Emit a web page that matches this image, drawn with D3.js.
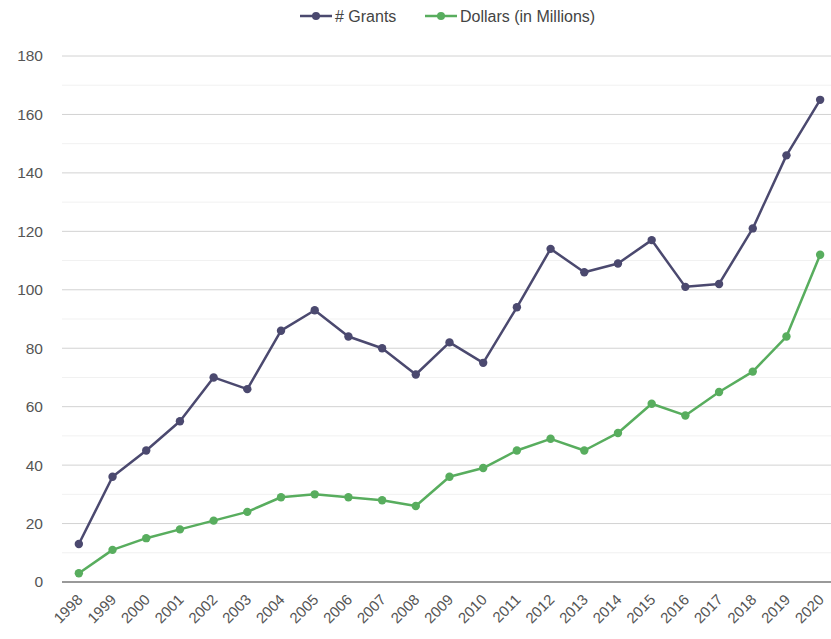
<!DOCTYPE html>
<html>
<head>
<meta charset="utf-8">
<script src="https://cdn.jsdelivr.net/npm/d3@7"></script>
<style>
  body { margin: 0; background: #fff; overflow: hidden; }
  svg { display: block; font-family: "Liberation Sans", Arial, sans-serif; }
</style>
</head>
<body>
<svg id="chart"></svg>
<script>
const years = ["1998","1999","2000","2001","2002","2003","2004","2005","2006","2007","2008",
  "2009","2010","2011","2012","2013","2014","2015","2016","2017","2018","2019","2020"];
const grants = [13, 36, 45, 55, 70, 66, 86, 93, 84, 80, 71, 82, 75, 94, 114, 106, 109, 117, 101, 102, 121, 146, 165];
const dollars = [3, 11, 15, 18, 21, 24, 29, 30, 29, 28, 26, 36, 39, 45, 49, 45, 51, 61, 57, 65, 72, 84, 112];
const yTicks = [0, 20, 40, 60, 80, 100, 120, 140, 160, 180];

const width = 831;
const height = 639;
const plotLeft = 62, plotRight = 837, plotTop = 56, plotBottom = 582;

const svg = d3.select("#chart")
  .attr("width", width)
  .attr("height", height);

const x = d3.scaleBand().domain(years).range([plotLeft, plotRight]);
const y = d3.scaleLinear().domain([0, 180]).range([plotBottom, plotTop]);

// minor gridlines
svg.append("g")
  .selectAll("line")
  .data(d3.range(10, 180, 20))
  .enter().append("line")
  .attr("x1", plotLeft).attr("x2", plotRight)
  .attr("y1", d => y(d)).attr("y2", d => y(d))
  .attr("stroke", "#f1f1f1");

// major gridlines
svg.append("g")
  .selectAll("line")
  .data(yTicks.filter(d => d > 0))
  .enter().append("line")
  .attr("x1", plotLeft).attr("x2", plotRight)
  .attr("y1", d => y(d)).attr("y2", d => y(d))
  .attr("stroke", "#d2d2d2");

// y axis labels
svg.append("g")
  .selectAll("text")
  .data(yTicks)
  .enter().append("text")
  .attr("x", 43)
  .attr("y", d => y(d))
  .attr("dy", "0.35em")
  .attr("text-anchor", "end")
  .attr("font-size", 15.5)
  .attr("fill", "#555")
  .text(d => d);

// baseline
svg.append("line")
  .attr("x1", plotLeft).attr("x2", plotRight)
  .attr("y1", y(0)).attr("y2", y(0))
  .attr("stroke", "#777")
  .attr("stroke-width", 1.5);

// x labels, rotated
svg.append("g")
  .selectAll("text")
  .data(years)
  .enter().append("text")
  .attr("transform", d => `translate(${x(d) + x.bandwidth() / 2 + 1},${plotBottom + 15}) rotate(-45)`)
  .attr("text-anchor", "end")
  .attr("dy", "0.35em")
  .attr("font-size", 15)
  .attr("fill", "#555")
  .text(d => d);

const cx = d => x(d) + x.bandwidth() / 2;

const series = [
  { name: "# Grants", values: grants, color: "#4b496f" },
  { name: "Dollars (in Millions)", values: dollars, color: "#58ad5e" }
];

series.forEach(s => {
  const pts = years.map((yr, i) => [cx(yr), y(s.values[i])]);
  svg.append("path")
    .datum(pts)
    .attr("fill", "none")
    .attr("stroke", s.color)
    .attr("stroke-width", 2.5)
    .attr("stroke-linejoin", "round")
    .attr("d", d3.line());
  svg.append("g")
    .selectAll("circle")
    .data(pts)
    .enter().append("circle")
    .attr("cx", d => d[0])
    .attr("cy", d => d[1])
    .attr("r", 4.2)
    .attr("fill", s.color);
});

// legend
const legendX = [300, 425];
const legend = svg.append("g");
series.forEach((s, i) => {
  const g = legend.append("g").attr("transform", `translate(${legendX[i]},16)`);
  g.append("line").attr("x1", 0).attr("x2", 32).attr("y1", 0).attr("y2", 0)
    .attr("stroke", s.color).attr("stroke-width", 2.5);
  g.append("circle").attr("cx", 16).attr("cy", 0).attr("r", 4).attr("fill", s.color);
  g.append("text").attr("x", 35).attr("dy", "0.35em")
    .attr("font-size", 16).attr("fill", "#444").text(s.name);
});
</script>
</body>
</html>
